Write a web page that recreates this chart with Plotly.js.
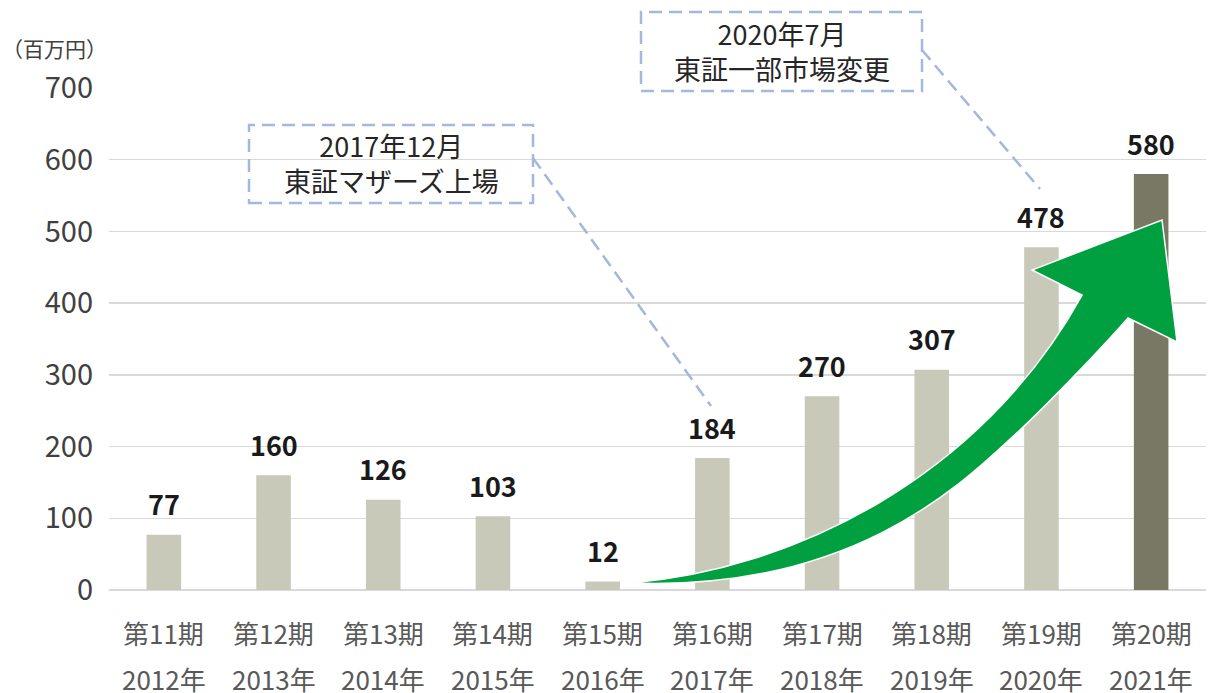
<!DOCTYPE html>
<html>
<head>
<meta charset="utf-8">
<script src="https://cdn.plot.ly/plotly-3.0.1.min.js"></script>
<style>
html,body{margin:0;padding:0;background:#fff;}
#chart{width:1211px;height:693px;}
</style>
</head>
<body>
<div id="chart"></div>
<script>
// ---- data ----
const periods = ["第11期","第12期","第13期","第14期","第15期","第16期","第17期","第18期","第19期","第20期"];
const years = ["2012年","2013年","2014年","2015年","2016年","2017年","2018年","2019年","2020年","2021年"];
const sales = [77, 160, 126, 103, 12, 184, 270, 307, 478, 580];
const yTicks = [0, 100, 200, 300, 400, 500, 600, 700];
const unitLabel = "（百万円）";
const note1 = "2017年12月<br>東証マザーズ上場";
const note2 = "2020年7月<br>東証一部市場変更";

// ---- layout constants ----
const W = 1211, H = 693;
const M = {l: 109, r: 5, t: 88, b: 103};
const PW = W - M.l - M.r, PH = H - M.t - M.b;
const FONT = "Noto Sans CJK JP, Noto Sans, sans-serif";
const lightBar = "#c9c9b9", darkBar = "#787865";
const dashBlue = "#a3b8da";

// pixel -> paper helpers (for decorations only)
const px = x => (x - M.l) / PW;
const py = y => (H - M.b - y) / PH;
const pt = (x, y) => px(x).toFixed(4) + "," + py(y).toFixed(4);

const barColors = sales.map((v, i) => i === sales.length - 1 ? darkBar : lightBar);

const trace = {
  type: "bar",
  x: periods,
  y: sales,
  marker: {color: barColors, line: {width: 0}},
  hoverinfo: "skip"
};

const annotations = [];
periods.forEach((p, i) => {
  annotations.push({
    x: p, y: sales[i], xref: "x", yref: "y",
    text: "<b>" + sales[i] + "</b>", showarrow: false,
    yanchor: "middle", yshift: 31,
    font: {family: FONT, size: 27, color: "#1a1a1a"}
  });
  annotations.push({
    x: p, y: 0, xref: "x", yref: "paper",
    text: p, showarrow: false, yanchor: "middle", yshift: -42,
    font: {family: FONT, size: 26, color: "#595959"}
  });
  annotations.push({
    x: p, y: 0, xref: "x", yref: "paper",
    text: years[i], showarrow: false, yanchor: "middle", yshift: -88,
    font: {family: FONT, size: 26, color: "#595959"}
  });
});
annotations.push({
  x: px(0), y: py(48), xref: "paper", yref: "paper", xanchor: "left", yanchor: "middle",
  text: unitLabel, showarrow: false,
  font: {family: FONT, size: 21, color: "#404040"}
});
annotations.push({
  x: px(391), y: py(163), xref: "paper", yref: "paper", xanchor: "center", yanchor: "middle",
  text: note1, showarrow: false,
  font: {family: FONT, size: 27, color: "#262626"}
});
annotations.push({
  x: px(781.5), y: py(51), xref: "paper", yref: "paper", xanchor: "center", yanchor: "middle",
  text: note2, showarrow: false,
  font: {family: FONT, size: 27, color: "#262626"}
});

// arrow path (pixel coords converted to paper)
const arrowPath =
  "M" + pt(630, 583) +
  " C" + pt(790, 570) + " " + pt(980, 480) + " " + pt(1082, 295) +
  " L" + pt(1032, 270) +
  " L" + pt(1162, 220) +
  " L" + pt(1177, 342) +
  " L" + pt(1128, 318) +
  " C" + pt(1100, 350) + " " + pt(1045, 407) + " " + pt(1020, 430) +
  " C" + pt(970, 476) + " " + pt(860, 592) + " " + pt(630, 583) + " Z";

const dashLine = {color: dashBlue, width: 2.5, dash: "13px,7px"};
const shapes = [
  {type: "rect", xref: "paper", yref: "paper",
   x0: px(249), x1: px(533), y0: py(203), y1: py(125), line: dashLine, fillcolor: "rgba(0,0,0,0)", layer: "above"},
  {type: "line", xref: "paper", yref: "paper",
   x0: px(533), y0: py(158), x1: px(711), y1: py(406), line: dashLine, layer: "above"},
  {type: "rect", xref: "paper", yref: "paper",
   x0: px(641), x1: px(922), y0: py(91), y1: py(12), line: dashLine, fillcolor: "rgba(0,0,0,0)", layer: "above"},
  {type: "line", xref: "paper", yref: "paper",
   x0: px(922), y0: py(50), x1: px(1040), y1: py(189), line: dashLine, layer: "above"},
  {type: "path", xref: "paper", yref: "paper", path: arrowPath,
   fillcolor: "#00a040", line: {color: "#ffffff", width: 1.5}, layer: "above"}
];

const layout = {
  width: W, height: H,
  margin: M,
  paper_bgcolor: "#ffffff", plot_bgcolor: "#ffffff",
  bargap: 0.685,
  showlegend: false,
  xaxis: {
    type: "category",
    showticklabels: false,
    showgrid: false, showline: false, zeroline: false, ticks: ""
  },
  yaxis: {
    range: [0, 700],
    tickvals: yTicks,
    ticktext: yTicks.map(String),
    showgrid: true, gridcolor: "#d9d9d9", gridwidth: 1.5,
    zeroline: true, zerolinecolor: "#d9d9d9", zerolinewidth: 1.5,
    showline: false, ticks: "",
    ticklabelstandoff: 15,
    tickfont: {family: FONT, size: 29, color: "#404040"}
  },
  annotations: annotations,
  shapes: shapes
};

Plotly.newPlot("chart", [trace], layout, {staticPlot: true, displayModeBar: false});
</script>
</body>
</html>
